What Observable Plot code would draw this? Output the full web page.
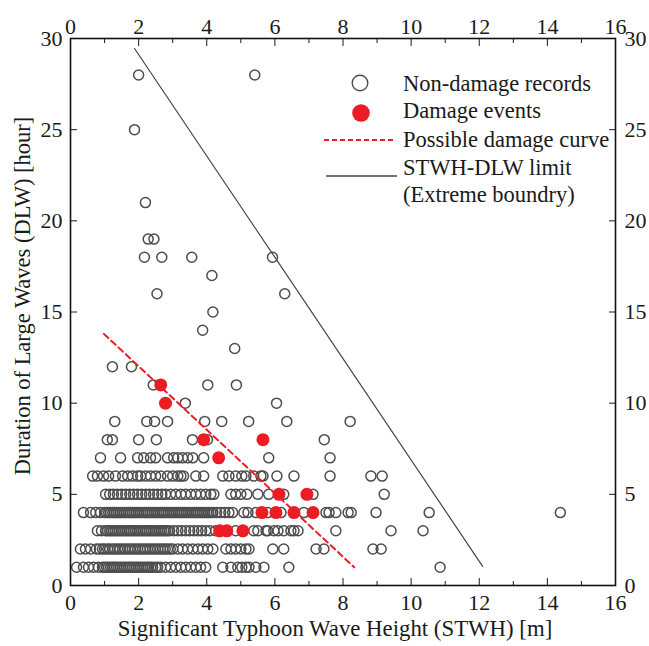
<!DOCTYPE html>
<html><head><meta charset="utf-8">
<script src="https://cdn.jsdelivr.net/npm/d3@7"></script>
<script src="https://cdn.jsdelivr.net/npm/@observablehq/plot@0.6"></script>
<style>
body{margin:0;background:#fff;}
#wrap{position:relative;width:649px;height:646px;}
#legend{position:absolute;left:0;top:0;pointer-events:none;}
</style></head><body><div id="wrap"></div>
<script>
// STWH values (m) of non-damage records, grouped by DLW (hour)
const dlwLevels = [1,2,3,4,5,6,7,8,9,10,11,12,13,14,15,16,17,18,19,21,25,28];
const stwhAt1 = [0.18,0.38,0.53,0.68,0.82,0.94,1.00,1.06,1.12,1.18,1.24,1.29,1.35,1.41,1.47,1.53,1.59,1.65,1.71,1.76,1.82,1.88,1.94,2.00,2.06,2.12,2.18,2.24,2.29,2.35,2.41,2.50,2.56,2.65,2.79,2.94,3.09,3.24,3.38,3.53,3.68,3.82,3.97,4.47,4.71,4.91,5.03,5.15,5.24,5.44,5.68,6.41,10.85];
const stwhAt2 = [0.29,0.44,0.59,0.76,0.85,0.94,1.00,1.09,1.15,1.24,1.30,1.38,1.45,1.53,1.60,1.68,1.75,1.82,1.90,1.97,2.05,2.12,2.19,2.26,2.34,2.41,2.49,2.56,2.64,2.71,2.78,2.85,2.93,3.00,3.15,3.29,3.44,3.59,3.74,3.88,4.03,4.18,4.56,4.71,4.85,5.00,5.15,5.24,5.94,6.26,7.21,7.44,8.88,9.12];
const stwhAt3 = [0.79,0.91,1.03,1.09,1.15,1.21,1.26,1.32,1.38,1.44,1.50,1.56,1.62,1.68,1.74,1.79,1.85,1.91,1.97,2.03,2.09,2.15,2.21,2.26,2.32,2.38,2.44,2.50,2.56,2.62,2.68,2.74,2.79,2.85,2.91,3.03,3.15,3.26,3.38,3.50,3.62,3.74,3.85,3.97,4.09,4.26,4.85,5.38,5.50,5.74,5.79,5.97,6.09,6.26,6.47,6.56,6.68,7.79,9.41,10.35];
const stwhAt4 = [0.38,0.59,0.74,0.88,1.00,1.06,1.12,1.18,1.24,1.29,1.35,1.41,1.47,1.53,1.59,1.65,1.71,1.76,1.82,1.88,1.94,2.00,2.06,2.12,2.18,2.24,2.29,2.35,2.41,2.47,2.53,2.59,2.65,2.71,2.76,2.82,2.88,2.94,3.00,3.06,3.12,3.18,3.24,3.29,3.35,3.41,3.47,3.53,3.59,3.65,3.71,3.76,3.82,3.88,3.94,4.00,4.06,4.12,4.18,4.29,4.41,4.53,4.65,4.76,5.09,5.21,5.44,5.79,6.18,6.85,7.50,7.59,7.79,8.15,8.24,8.97,10.53,14.38];
const stwhAt5 = [1.03,1.15,1.26,1.38,1.50,1.62,1.74,1.85,1.97,2.09,2.21,2.32,2.44,2.56,2.68,2.79,2.94,3.09,3.24,3.38,3.53,3.68,3.82,3.97,4.12,4.21,4.71,4.85,5.00,5.18,5.50,5.82,6.26,7.12,9.21];
const stwhAt6 = [0.65,0.79,0.97,1.12,1.32,1.53,1.68,1.82,1.97,2.06,2.21,2.35,2.50,2.65,2.85,3.00,3.15,3.24,3.32,3.68,3.91,4.47,4.65,4.85,5.03,5.15,5.38,5.59,5.65,6.06,6.56,7.62,8.82,9.15];
const stwhAt7 = [0.88,1.47,1.97,2.15,2.35,2.50,2.85,3.03,3.15,3.29,3.44,3.59,3.91,5.82,7.62];
const stwhAt8 = [1.08,1.23,2.00,2.52,3.58,4.02,7.45];
const stwhAt9 = [1.30,2.24,2.47,2.85,3.94,4.44,5.23,6.35,8.21];
const stwhAt10 = [3.37,6.05];
const stwhAt11 = [2.43,4.03,4.87];
const stwhAt12 = [1.23,1.79];
const stwhAt13 = [4.82];
const stwhAt14 = [3.88];
const stwhAt15 = [4.18];
const stwhAt16 = [2.54,6.29];
const stwhAt17 = [4.15];
const stwhAt18 = [2.17,2.68,3.56,5.93];
const stwhAt19 = [2.28,2.45];
const stwhAt21 = [2.20];
const stwhAt25 = [1.88];
const stwhAt28 = [2.00,5.41];

// Damage events
const damageStwh = [2.65,2.79,3.91,5.65,4.35,6.12,6.94,5.62,6.03,6.56,7.12,4.38,4.59,5.06];
const damageDlw  = [11,10,8,8,7,5,5,4,4,4,4,3,3,3];

// Possible damage curve and STWH-DLW limit
const curveStwh = [0.98, 8.33];
const curveDlw  = [13.8, 1.0];
const limitStwh = [1.88, 12.1];
const limitDlw  = [29.45, 1.05];

// Axis ticks and labels
const xMajorTicks = [0,2,4,6,8,10,12,14,16];
const xMinorTicks = [1,3,5,7,9,11,13,15];
const yTicks = [0,5,10,15,20,25,30];
const xTitle = "Significant Typhoon Wave Height (STWH) [m]";
const yTitle = "Duration of Large Waves (DLW) [hour]";
const legendLabels = ["Non-damage records","Damage events","Possible damage curve","STWH-DLW limit","(Extreme boundry)"];

const stwhRows = [stwhAt1,stwhAt2,stwhAt3,stwhAt4,stwhAt5,stwhAt6,stwhAt7,stwhAt8,stwhAt9,stwhAt10,stwhAt11,stwhAt12,stwhAt13,stwhAt14,stwhAt15,stwhAt16,stwhAt17,stwhAt18,stwhAt19,stwhAt21,stwhAt25,stwhAt28];
const nonDamage = dlwLevels.flatMap((d, i) => stwhRows[i].map(s => ({stwh: s, dlw: d})));
const damage = damageStwh.map((s, i) => ({stwh: s, dlw: damageDlw[i]}));
const curve = curveStwh.map((s, i) => ({stwh: s, dlw: curveDlw[i]}));
const limit = limitStwh.map((s, i) => ({stwh: s, dlw: limitDlw[i]}));

const RED = "#ec1c24";
const GRAY = "#4d4d4d";
const FONT = "'Liberation Serif', 'Times New Roman', serif";

const chart = Plot.plot({
  width: 649, height: 646,
  marginLeft: 70, marginRight: 34, marginTop: 38, marginBottom: 61,
  x: {domain: [0, 16]},
  y: {domain: [0, 30]},
  style: {fontFamily: FONT, fontSize: "22px", color: "#1a1a1a", background: "#fff", overflow: "visible"},
  marks: [
    Plot.dot(nonDamage, {x: "stwh", y: "dlw", r: 5, stroke: GRAY, strokeWidth: 1.5, fill: "none"}),
    Plot.line(limit, {x: "stwh", y: "dlw", stroke: "#444", strokeWidth: 1.2}),
    Plot.line(curve, {x: "stwh", y: "dlw", stroke: RED, strokeWidth: 2, strokeDasharray: "6,4"}),
    Plot.dot(damage, {x: "stwh", y: "dlw", r: 6.5, fill: RED, stroke: "none"}),
    Plot.axisX({ticks: xMajorTicks, anchor: "bottom", tickSize: -7, tickPadding: 16, label: null}),
    Plot.axisX({ticks: xMajorTicks, anchor: "top", tickSize: -7, tickPadding: 12, label: null}),
    Plot.axisX({ticks: xMinorTicks, anchor: "bottom", tickSize: -4, fill: "none", label: null}),
    Plot.axisX({ticks: xMinorTicks, anchor: "top", tickSize: -4, fill: "none", label: null}),
    Plot.axisY({ticks: yTicks, anchor: "left", tickSize: -7, tickPadding: 15, label: null}),
    Plot.axisY({ticks: yTicks, anchor: "right", tickSize: -7, tickPadding: 16, label: null}),
    Plot.frame({stroke: "#111", strokeWidth: 1.6}),
    Plot.text([xTitle], {frameAnchor: "bottom", dx: -8, dy: 50, text: d => d, fontSize: 22.8}),
    Plot.text([yTitle], {frameAnchor: "left", textAnchor: "middle", dx: -48, dy: -16, rotate: -90, text: d => d, fontSize: 22.5})
  ]
});

const wrap = document.getElementById("wrap");
wrap.appendChild(chart);

// Legend overlay
const lg = d3.select(wrap).append("svg").attr("id", "legend").attr("width", 649).attr("height", 646)
  .style("font-family", FONT).style("font-size", "22.5px");
lg.append("circle").attr("cx", 360).attr("cy", 83).attr("r", 7.8).attr("fill", "none").attr("stroke", GRAY).attr("stroke-width", 1.4);
lg.append("circle").attr("cx", 361).attr("cy", 113).attr("r", 8.8).attr("fill", RED);
lg.append("line").attr("x1", 324).attr("x2", 395).attr("y1", 140).attr("y2", 140).attr("stroke", RED).attr("stroke-width", 2).attr("stroke-dasharray", "5,3");
lg.append("line").attr("x1", 326).attr("x2", 397).attr("y1", 176).attr("y2", 176).attr("stroke", "#444").attr("stroke-width", 1.3);
const legendY = [83, 110, 139, 167, 194];
legendLabels.forEach((t, i) => {
  lg.append("text").attr("x", 403).attr("y", legendY[i]).attr("dy", "0.35em").attr("fill", "#1a1a1a").text(t);
});
</script>
</body></html>
